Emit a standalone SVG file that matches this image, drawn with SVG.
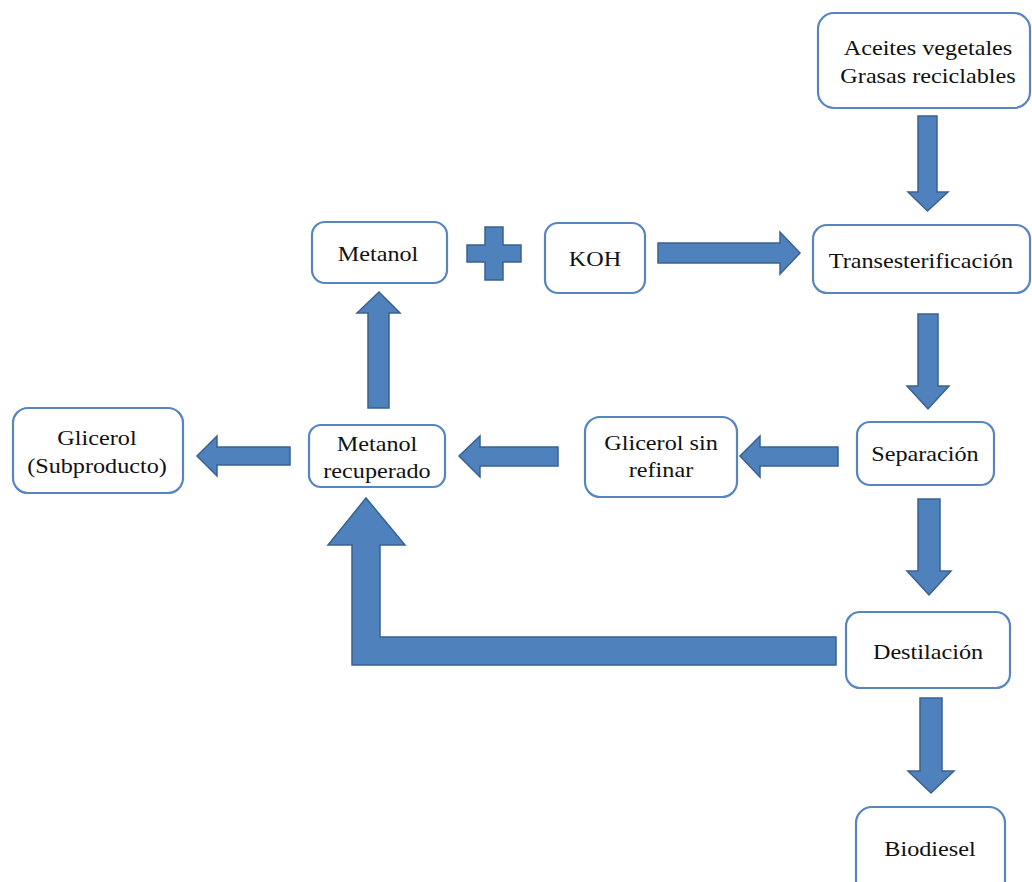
<svg xmlns="http://www.w3.org/2000/svg" width="1032" height="882" viewBox="0 0 1032 882">
<style>
.box{fill:#fff;stroke:#5685c0;stroke-width:2.2}
.arr{fill:#4f81bd;stroke:#3a6190;stroke-width:1.5;stroke-linejoin:miter}
.t{font-family:'Liberation Serif','Times New Roman',serif;font-size:22px;fill:#111;text-anchor:middle}
</style>
<rect width="1032" height="882" fill="#fff"/>
<g id="connectors">
<polygon class="arr" points="918,116 937,116 937,192 948,192 927.5,211 908,192 918,192"/>
<polygon class="arr" points="658,243 780,243 780,232 800,253 780,274 780,263 658,263"/>
<polygon class="arr" points="918,314 938,314 938,386 949,386 928,409 907,386 918,386"/>
<polygon class="arr" points="838,447 760,447 760,436 740,456 760,477 760,466 838,466"/>
<polygon class="arr" points="558,447 480,447 480,436 459,456 480,477 480,466 558,466"/>
<polygon class="arr" points="290,447 217,447 217,436 197,456 217,476 217,465 290,465"/>
<polygon class="arr" points="368,408 389,408 389,313 400,313 379,292 357,313 368,313"/>
<polygon class="arr" points="918,499 940,499 940,571 951,571 929,595 907,571 918,571"/>
<polygon class="arr" points="836,637 836,665 352,665 352,545 328,545 366,498 405,545 380,545 380,637"/>
<polygon class="arr" points="920,698 942,698 942,771 954,771 931,793 908,771 920,771"/>
<polygon class="arr" points="485,227 503,227 503,245 521,245 521,262 503,262 503,280 485,280 485,262 467,262 467,245 485,245"/>
</g>
<g id="n_aceites">
<rect class="box" x="818" y="13" width="212" height="95" rx="16"/>
<text class="t" x="928" y="55" transform="matrix(1.1 0 0 1 -92.8 0)">Aceites vegetales</text>
<text class="t" x="928" y="83" transform="matrix(1.1 0 0 1 -92.8 0)">Grasas reciclables</text>
</g>
<g id="n_trans">
<rect class="box" x="813" y="225" width="217" height="68" rx="14"/>
<text class="t" x="921" y="268" transform="matrix(1.1 0 0 1 -92.1 0)">Transesterificación</text>
</g>
<g id="n_metanol">
<rect class="box" x="312" y="222" width="135" height="61" rx="13"/>
<text class="t" x="378" y="261" transform="matrix(1.1 0 0 1 -37.8 0)">Metanol</text>
</g>
<g id="n_koh">
<rect class="box" x="545" y="223" width="100" height="70" rx="13"/>
<text class="t" x="595" y="266" transform="matrix(1.1 0 0 1 -59.5 0)">KOH</text>
</g>
<g id="n_glicerol">
<rect class="box" x="13" y="408" width="170" height="85" rx="15"/>
<text class="t" x="97" y="445" transform="matrix(1.1 0 0 1 -9.7 0)">Glicerol</text>
<text class="t" x="97" y="473" transform="matrix(1.1 0 0 1 -9.7 0)">(Subproducto)</text>
</g>
<g id="n_metrec">
<rect class="box" x="309" y="425" width="136" height="62" rx="12"/>
<text class="t" x="377" y="451" transform="matrix(1.1 0 0 1 -37.7 0)">Metanol</text>
<text class="t" x="377" y="478" transform="matrix(1.1 0 0 1 -37.7 0)">recuperado</text>
</g>
<g id="n_glisin">
<rect class="box" x="585" y="417" width="152" height="80" rx="15"/>
<text class="t" x="661" y="450" transform="matrix(1.1 0 0 1 -66.1 0)">Glicerol sin</text>
<text class="t" x="661" y="477" transform="matrix(1.1 0 0 1 -66.1 0)">refinar</text>
</g>
<g id="n_sep">
<rect class="box" x="857" y="422" width="137" height="63" rx="13"/>
<text class="t" x="925" y="461" transform="matrix(1.1 0 0 1 -92.5 0)">Separación</text>
</g>
<g id="n_dest">
<rect class="box" x="846" y="612" width="164" height="76" rx="14"/>
<text class="t" x="928" y="659" transform="matrix(1.1 0 0 1 -92.8 0)">Destilación</text>
</g>
<g id="n_bio">
<rect class="box" x="856" y="807" width="149" height="90" rx="16"/>
<text class="t" x="930" y="856" transform="matrix(1.1 0 0 1 -93 0)">Biodiesel</text>
</g>
</svg>
